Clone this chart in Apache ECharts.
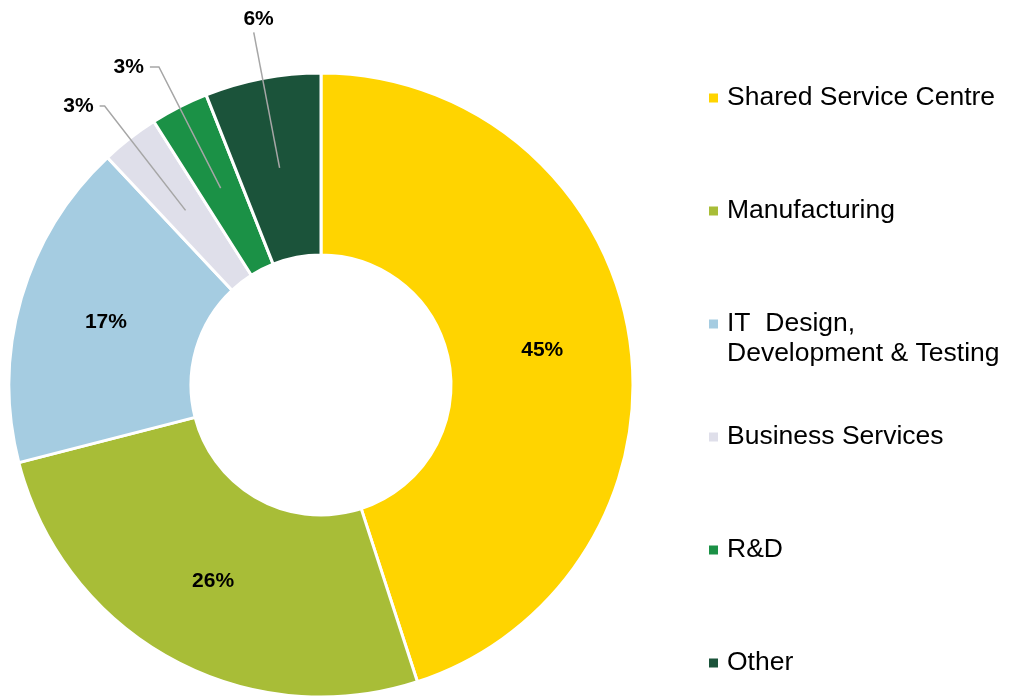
<!DOCTYPE html>
<html>
<head>
<meta charset="utf-8">
<script src="https://cdn.jsdelivr.net/npm/echarts@6/dist/echarts.min.js"></script>
<style>
  html, body { margin: 0; padding: 0; background: #fff; }
  #main { width: 1010px; height: 697px; }
</style>
</head>
<body>
<div id="main"></div>
<script>
const categories = ['Shared Service Centre', 'Manufacturing', 'IT  Design,\nDevelopment & Testing', 'Business Services', 'R&D', 'Other']
const shares = [45, 26, 17, 3, 3, 6]
const colors = ['#FFD400', '#A8BD37', '#A5CCE1', '#DFDFEA', '#1B9146', '#1B533A']
// which slices get their label outside with a leader line
const outside = [false, false, false, true, true, true]

const font = '"Liberation Sans", Arial, sans-serif'

const mainData = categories.map((name, i) => ({
  name: name,
  value: shares[i],
  itemStyle: { color: colors[i] },
  label: { show: !outside[i] }
}))

// transparent copy, its outer edge sits mid-ring so leader lines start inside the slice
const lineSettings = {
  3: { length: 132, length2: 5 },
  4: { length: 136, length2: 9 },
  5: { length: 138, length2: 0 }
}
const guideData = categories.map((name, i) => {
  const item = {
    name: name,
    value: shares[i],
    label: { show: outside[i] },
    labelLine: Object.assign({ show: outside[i] }, lineSettings[i] || {})
  }
  if (i === 5) {
    // label sits above the end of its line
    item.label.distanceToLabelLine = -20
    item.label.formatter = '{c}%\n'
    item.label.lineHeight = 26
  }
  return item
})

const legendData = categories.map((name) => {
  if (name.indexOf('\n') >= 0) {
    return { name: name, textStyle: { padding: [0, 0, 0, 4] } }
  }
  return { name: name }
})

const chart = echarts.init(document.getElementById('main'))

const option = {
  animation: false,
  legend: {
    orient: 'vertical',
    left: 709,
    top: 53,
    height: 700,
    padding: 0,
    itemGap: 23,
    itemWidth: 9,
    itemHeight: 9,
    icon: 'rect',
    itemStyle: { borderWidth: 0 },
    data: legendData,
    // two-line entry: empty first line so the icon lines up with "IT  Design,"
    formatter: (name) => name.indexOf('\n') >= 0 ? '\n' + name : name,
    textStyle: {
      fontFamily: font,
      fontSize: 26.5,
      lineHeight: 30,
      color: '#000',
      padding: [30, 0, 30, 4]
    }
  },
  series: [
    {
      name: 'share',
      type: 'pie',
      z: 2,
      center: [321, 385],
      radius: [130, 312],
      startAngle: 90,
      avoidLabelOverlap: false,
      itemStyle: { borderColor: '#fff', borderWidth: 3 },
      label: {
        position: 'inside',
        formatter: '{c}%',
        fontFamily: font,
        fontSize: 21,
        fontWeight: 'bold',
        color: '#000'
      },
      labelLine: { show: false },
      emphasis: { disabled: true },
      data: mainData
    },
    {
      name: 'guide',
      type: 'pie',
      z: 5,
      silent: true,
      center: [321, 385],
      radius: [0, 221],
      startAngle: 90,
      avoidLabelOverlap: false,
      itemStyle: { color: 'rgba(0,0,0,0)' },
      label: {
        position: 'outside',
        formatter: '{c}%',
        fontFamily: font,
        fontSize: 21,
        fontWeight: 'bold',
        color: '#000',
        distanceToLabelLine: 6
      },
      labelLine: {
        lineStyle: { color: '#A6A6A6', width: 1.5 }
      },
      emphasis: { disabled: true },
      data: guideData
    }
  ]
}

chart.setOption(option)
</script>
</body>
</html>
